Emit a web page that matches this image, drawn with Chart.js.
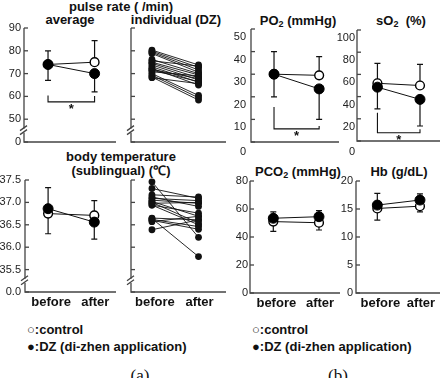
<!DOCTYPE html>
<html>
<head>
<meta charset="utf-8">
<script src="https://cdn.jsdelivr.net/npm/chart.js@4.4.1/dist/chart.umd.min.js"></script>
<style>
  html, body { margin: 0; padding: 0; background: #fff; }
  #fig { position: relative; width: 446px; height: 378px; overflow: hidden;
         font-family: "Liberation Sans", Arial, sans-serif; color: #111; }
  #fig canvas { position: absolute; left: 0; top: 0; }
  .t { position: absolute; font-weight: bold; font-size: 13px; line-height: 13px;
       white-space: nowrap; transform: translateX(-50%); }
  .t sub { font-size: 9px; line-height: 0; vertical-align: -2px; }
  .leg { position: absolute; font-weight: bold; font-size: 13px; line-height: 13px; white-space: nowrap; }
  .cap { position: absolute; font-family: "Liberation Serif", "Times New Roman", serif;
         font-size: 17px; line-height: 17px; transform: translateX(-50%); }
</style>
</head>
<body>
<div id="fig">
  <div class="t" style="left:121px;top:0px">pulse rate ( /min)</div>
  <div class="t" style="left:70px;top:13px">average</div>
  <div class="t" style="left:176px;top:13px">individual (DZ)</div>
  <div class="t" style="left:121px;top:150px">body temperature</div>
  <div class="t" style="left:121px;top:164px">(sublingual) (℃)</div>
  <div class="t" style="left:298px;top:14px">PO<sub>2</sub> (mmHg)</div>
  <div class="t" style="left:401px;top:14px">sO<sub>2</sub>&nbsp; (%)</div>
  <div class="t" style="left:298px;top:165px">PCO<sub>2</sub> (mmHg)</div>
  <div class="t" style="left:399px;top:165px">Hb (g/dL)</div>

  <div class="leg" style="left:27px;top:323px">○:control</div>
  <div class="leg" style="left:27px;top:340px">●:DZ (di-zhen application)</div>
  <div class="leg" style="left:252px;top:323px">○:control</div>
  <div class="leg" style="left:252px;top:340px">●:DZ (di-zhen application)</div>

  <div class="cap" style="left:140px;top:367px">(a)</div>
  <div class="cap" style="left:338px;top:367px">(b)</div>
</div>

<script>
const W = 446, H = 378;
const AXIS = "#444";
const INK = "#111";

// x categories
const phases = ["before", "after"];

// pulse rate (/min)
const pulseCtrl = [74, 75];
const pulseDZ = [74, 70];
const pulseCtrlHi = [80, 84.5];
const pulseDZLo = [67, 62];
const pulseIndBefore = [80.3, 79.8, 79.3, 78.8, 76.2, 75.6, 75.0, 74.5, 73.8, 73.0, 72.3, 71.8, 71.5, 70.8, 70.0, 69.3, 68.5, 68.2];
const pulseIndAfter  = [73.8, 72.7, 71.6, 70.6, 70.0, 73.3, 69.4, 68.2, 67.2, 66.2, 65.0, 67.8, 66.5, 69.0, 60.4, 59.4, 58.4, 65.6];
const pulseTicks = [40, 50, 60, 70, 80, 90];
const pulseTickLabels = ["0", "50", "60", "70", "80", "90"]; // broken axis

// body temperature (C)
const tempCtrl = [36.75, 36.71];
const tempDZ = [36.86, 36.56];
const tempCtrlHi = [37.33, 37.04];
const tempDZLo = [36.30, 36.18];
const tempIndBefore = [37.46, 37.31, 37.17, 37.12, 37.09, 37.05, 37.02, 37.00, 36.98, 36.94, 36.94, 36.65, 36.64, 36.62, 36.60, 36.57, 36.39];
const tempIndAfter  = [36.22, 37.09, 37.12, 36.91, 37.04, 36.98, 36.69, 36.54, 37.00, 36.76, 36.50, 36.61, 35.79, 36.46, 36.40, 36.69, 36.61];
const tempTicks = [35.0, 35.5, 36.0, 36.5, 37.0, 37.5];
const tempTickLabels = ["0.0", "35.5", "36.0", "36.5", "37.0", "37.5"];

// PO2 (mmHg)
const po2Ctrl = [30, 29.5];
const po2DZ = [30, 23.5];
const po2CtrlHi = [40, 37.8];
const po2DZLo = [20, 10];
const po2Ticks = [0, 10, 20, 30, 40, 50];

// sO2 (%)
const so2Ctrl = [52, 50];
const so2DZ = [48.5, 37.5];
const so2CtrlHi = [70, 69];
const so2DZLo = [29, 13.5];
const so2Ticks = [0, 20, 40, 60, 80, 100];

// PCO2 (mmHg)
const pco2Ctrl = [51, 50.2];
const pco2DZ = [53.4, 54.5];
const pco2CtrlLo = [44, 45];
const pco2DZHi = [58, 58.8];
const pco2Ticks = [0, 20, 40, 60, 80];

// Hb (g/dL)
const hbCtrl = [15.1, 15.5];
const hbDZ = [15.7, 16.6];
const hbCtrlLo = [13.0, 14.5];
const hbDZHi = [17.8, 17.7];
const hbTicks = [0, 5, 10, 15, 20];

const fig = document.getElementById("fig");

function pts(vals) {
  return vals.map((v, i) => ({ x: i, y: v }));
}

function meanSets(ctrl, dz) {
  return [
    { data: pts(dz), borderColor: INK, borderWidth: 1, pointRadius: 5,
      pointBackgroundColor: "#000", pointBorderColor: "#000", pointBorderWidth: 1 },
    { data: pts(ctrl), borderColor: INK, borderWidth: 1, pointRadius: 4.4,
      pointBackgroundColor: "#fff", pointBorderColor: "#000", pointBorderWidth: 1.4 }
  ];
}

function indSets(before, after) {
  return before.map((b, i) => ({
    data: pts([b, after[i]]), borderColor: INK, borderWidth: 0.9, pointRadius: 3.4,
    pointBackgroundColor: INK, pointBorderColor: INK, pointBorderWidth: 0
  }));
}

function drawFrame(chart, p) {
  const { ctx, chartArea: a } = chart;
  const y = chart.scales.y, x = chart.scales.x;
  ctx.save();
  ctx.strokeStyle = AXIS;
  ctx.lineWidth = 1.3;
  ctx.beginPath();
  ctx.moveTo(a.left, a.top);
  ctx.lineTo(a.left, a.bottom);
  ctx.lineTo(a.right, a.bottom);
  ctx.stroke();

  ctx.font = "11px 'Liberation Sans', Arial, sans-serif";
  ctx.fillStyle = "#222";
  ctx.textAlign = "right";
  ctx.textBaseline = "middle";
  p.ticks.forEach((v, i) => {
    const py = y.getPixelForValue(v);
    ctx.beginPath();
    ctx.moveTo(a.left, py);
    ctx.lineTo(a.left + 4, py);
    ctx.stroke();
    if (p.labels) {
      const dy = (v === p.yMin && p.zeroDy != null) ? p.zeroDy : (p.labelDy || 0);
      ctx.fillText(p.labels[i], a.left - (p.labelDx || 3), py + dy);
    }
  });

  if (p.breakAt != null) {
    const by = y.getPixelForValue(p.breakAt);
    ctx.fillStyle = "#fff";
    ctx.fillRect(a.left - 2, by - 2, 4, 4);
    ctx.beginPath();
    ctx.moveTo(a.left - 4, by);
    ctx.lineTo(a.left + 3, by - 5);
    ctx.moveTo(a.left - 4, by + 4);
    ctx.lineTo(a.left + 3, by - 1);
    ctx.stroke();
  }

  // x labels
  ctx.fillStyle = INK;
  ctx.font = "bold 13px 'Liberation Sans', Arial, sans-serif";
  ctx.textAlign = "center";
  ctx.textBaseline = "top";
  if (p.xLabels) {
    phases.forEach((ph, i) => {
      ctx.fillText(ph, x.getPixelForValue(i) + (i === 0 ? 3 : 1), a.bottom + 4);
    });
  }

  // error bars (SD)
  ctx.strokeStyle = INK;
  ctx.lineWidth = 1.2;
  (p.err || []).forEach(e => {
    e.from.forEach((v, i) => {
      const px = x.getPixelForValue(i);
      const p0 = y.getPixelForValue(v), p1 = y.getPixelForValue(e.to[i]);
      ctx.beginPath();
      ctx.moveTo(px, p0); ctx.lineTo(px, p1);
      ctx.moveTo(px - 3, p1); ctx.lineTo(px + 3, p1);
      ctx.stroke();
    });
  });

  // significance bracket
  if (p.sig) {
    const s = p.sig;
    const x0 = x.getPixelForValue(0), x1 = x.getPixelForValue(1);
    const yb = y.getPixelForValue(s.base);
    ctx.lineWidth = 1.1;
    ctx.beginPath();
    ctx.moveTo(x0, y.getPixelForValue(s.leftTop));
    ctx.lineTo(x0, yb);
    ctx.lineTo(x1, yb);
    ctx.lineTo(x1, y.getPixelForValue(s.rightTop));
    ctx.stroke();
    ctx.font = "bold 13px 'Liberation Sans', Arial, sans-serif";
    ctx.textBaseline = "top";
    ctx.fillText("*", (x0 + x1) / 2, yb + 1);
  }
  ctx.restore();
}

function makePanel(p) {
  const cv = document.createElement("canvas");
  cv.width = W; cv.height = H;
  fig.appendChild(cv);
  const [L, T, R, B] = p.box;
  return new Chart(cv, {
    type: "line",
    data: { datasets: p.datasets },
    options: {
      responsive: false,
      animation: false,
      events: [],
      clip: false,
      layout: { padding: { left: L, top: T, right: W - R, bottom: H - B } },
      elements: { line: { tension: 0 } },
      scales: {
        x: { type: "linear", display: false, min: p.xMin, max: p.xMax },
        y: { type: "linear", display: false, min: p.yMin, max: p.yMax }
      },
      plugins: { legend: { display: false }, tooltip: { enabled: false } }
    },
    plugins: [{ id: "frame", beforeDatasetsDraw(chart) { drawFrame(chart, p); } }]
  });
}

// pulse rate: average
makePanel({
  box: [24, 28, 116, 142], xMin: -0.516, xMax: 1.46, yMin: 40, yMax: 90,
  ticks: pulseTicks, labels: pulseTickLabels, labelDx: 3, breakAt: 45,
  datasets: meanSets(pulseCtrl, pulseDZ),
  err: [{ from: pulseCtrl, to: pulseCtrlHi }, { from: pulseDZ, to: pulseDZLo }],
  sig: { base: 57.6, leftTop: 60.4, rightTop: 60.2 }
});
// pulse rate: individual
makePanel({
  box: [131, 28, 226, 142], xMin: -0.45, xMax: 1.59, yMin: 40, yMax: 90,
  ticks: pulseTicks, breakAt: 45,
  datasets: indSets(pulseIndBefore, pulseIndAfter)
});
// temperature: average
makePanel({
  box: [25, 180, 116, 292], xMin: -0.5, xMax: 1.47, yMin: 35.0, yMax: 37.5,
  ticks: tempTicks, labels: tempTickLabels, labelDx: 4, breakAt: 35.25, xLabels: true,
  datasets: meanSets(tempCtrl, tempDZ),
  err: [{ from: tempCtrl, to: tempCtrlHi }, { from: tempDZ, to: tempDZLo }]
});
// temperature: individual
makePanel({
  box: [131, 180, 226, 292], xMin: -0.45, xMax: 1.59, yMin: 35.0, yMax: 37.5,
  ticks: tempTicks, breakAt: 35.25, xLabels: true,
  datasets: indSets(tempIndBefore, tempIndAfter)
});
// PO2
makePanel({
  box: [251, 29, 339, 142], xMin: -0.51, xMax: 1.44, yMin: 0, yMax: 50,
  ticks: po2Ticks, labels: po2Ticks.map(String), labelDx: 5, labelDy: 8, zeroDy: 10,
  datasets: meanSets(po2Ctrl, po2DZ),
  err: [{ from: po2Ctrl, to: po2CtrlHi }, { from: po2DZ, to: po2DZLo }],
  sig: { base: 5.8, leftTop: 15.5, rightTop: 7.1 }
});
// sO2
makePanel({
  box: [357, 30, 446, 141], xMin: -0.48, xMax: 1.47, yMin: 0, yMax: 100,
  ticks: so2Ticks, labels: so2Ticks.map(String), labelDx: 2, labelDy: 8, zeroDy: 11,
  datasets: meanSets(so2Ctrl, so2DZ),
  err: [{ from: so2Ctrl, to: so2CtrlHi }, { from: so2DZ, to: so2DZLo }],
  sig: { base: 7.5, leftTop: 25.5, rightTop: 10.5 }
});
// PCO2
makePanel({
  box: [250, 181, 340, 293], xMin: -0.51, xMax: 1.46, yMin: 0, yMax: 80,
  ticks: pco2Ticks, labels: pco2Ticks.map(String), labelDx: 2, xLabels: true,
  datasets: meanSets(pco2Ctrl, pco2DZ),
  err: [{ from: pco2DZ, to: pco2DZHi }, { from: pco2Ctrl, to: pco2CtrlLo }]
});
// Hb
makePanel({
  box: [356, 181, 446, 293], xMin: -0.5, xMax: 1.47, yMin: 0, yMax: 20,
  ticks: hbTicks, labels: hbTicks.map(String), labelDx: 3, xLabels: true,
  datasets: meanSets(hbCtrl, hbDZ),
  err: [{ from: hbDZ, to: hbDZHi }, { from: hbCtrl, to: hbCtrlLo }]
});
</script>
</body>
</html>
